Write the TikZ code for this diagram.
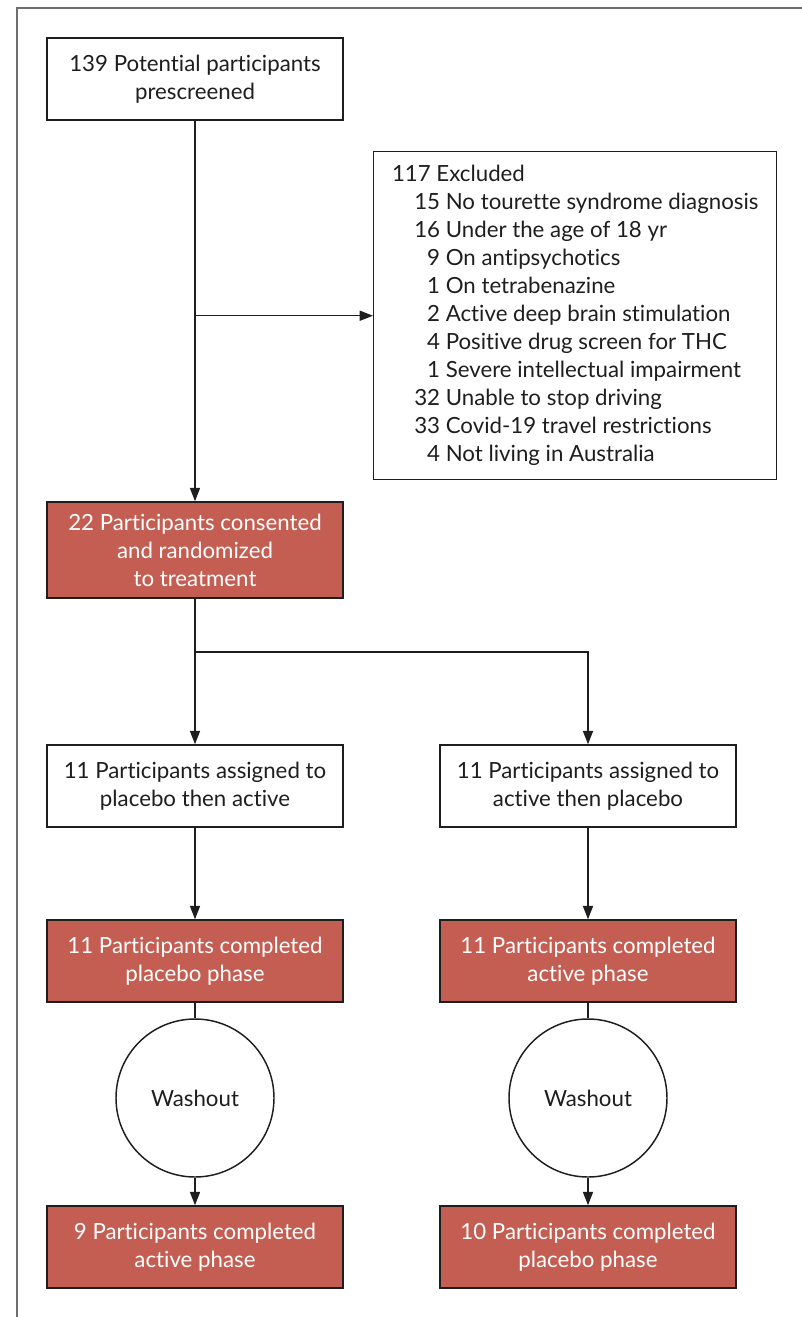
\documentclass[tikz,border=0pt]{standalone}
\usepackage{fontspec}
\setmainfont{Lato}[Ligatures=NoCommon]
\usetikzlibrary{arrows.meta,calc}
\definecolor{ink}{HTML}{1E1E1E}
\definecolor{rim}{HTML}{6B6F6F}
\definecolor{brick}{HTML}{C45E52}
\tikzset{
  every node/.style={font=\fontsize{16.7}{21}\selectfont,text=ink,inner sep=0pt},
  flow/.style={-{Triangle[length=10pt,width=7.5pt]},draw=ink,line width=1.1pt},
  link/.style={draw=ink,line width=1.1pt},
  box/.style={draw=ink,fill=white,line width=1.1pt,align=center,
              minimum width=222pt,minimum height=61.5pt},
  hot/.style={box,fill=brick,text=white},
  pause/.style={circle,draw=ink,fill=white,line width=1.1pt,minimum size=118.5pt},
}

\begin{document}
\begin{tikzpicture}[x=.75pt,y=-.75pt]       % pixel grid, y down
\path[use as bounding box] (0,0) rectangle (802,1317);
\draw[rim,line width=1.6pt] (17,1317) -- (17,8) -- (802,8);

% Screening and exclusions
\node[box] (screen) at (195,79) {139 Potential participants\\prescreened};
\node[box,anchor=north west,minimum width=302.25pt,minimum height=246pt,align=left]
      (excl) at (373,151) {%
  \begin{tabular}{@{}r@{\ }l@{}}
  \multicolumn{2}{@{}l@{}}{117 Excluded}\\
  \hspace{1em}15 & No tourette syndrome diagnosis\\
  16 & Under the age of 18 yr\\
  9 & On antipsychotics\\
  1 & On tetrabenazine\\
  2 & Active deep brain stimulation\\
  4 & Positive drug screen for THC\\
  1 & Severe intellectual impairment\\
  32 & Unable to stop driving\\
  33 & Covid-19 travel restrictions\\
  4 & Not living in Australia
  \end{tabular}};
\node[hot,minimum height=72pt] (consent) at (195,550)
      {22 Participants consented\\and randomized\\to treatment};
\coordinate (branch) at (screen.south |- excl.west);
\draw[flow] (screen.south) -- (consent.north);
\draw[flow] (branch) -- (excl.west);

% Two crossover arms
\node[box] (armA) at (195,786) {11 Participants assigned to\\placebo then active};
\node[box] (armB) at (588,786) {11 Participants assigned to\\active then placebo};
\coordinate (split) at (195,652);
\draw[flow] (consent.south) -- (armA.north);
\draw[flow] (split) -| (armB.north);

\node[hot] (firstA) at (195,961) {11 Participants completed\\placebo phase};
\node[hot] (firstB) at (588,961) {11 Participants completed\\active phase};
\draw[flow] (armA.south) -- (firstA.north);
\draw[flow] (armB.south) -- (firstB.north);

\node[pause] (washA) at (195,1098) {Washout};
\node[pause] (washB) at (588,1098) {Washout};
\draw[link] (firstA.south) -- (washA.north);
\draw[link] (firstB.south) -- (washB.north);

\node[hot] (lastA) at (195,1247) {9 Participants completed\\active phase};
\node[hot] (lastB) at (588,1247) {10 Participants completed\\placebo phase};
\draw[flow] (washA.south) -- (lastA.north);
\draw[flow] (washB.south) -- (lastB.north);

\end{tikzpicture}
\end{document}
